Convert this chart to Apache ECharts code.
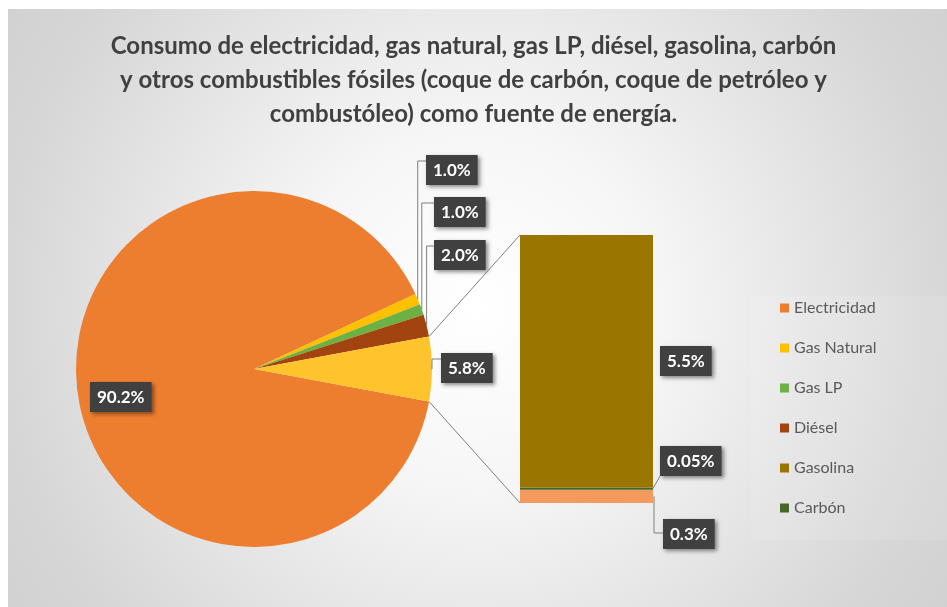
<!DOCTYPE html>
<html><head><meta charset="utf-8">
<script src="https://cdn.jsdelivr.net/npm/echarts@6/dist/echarts.min.js"></script>
<style>html,body{margin:0;padding:0;background:#fff}#c{width:947px;height:607px}</style>
</head><body><div id="c"></div>
<script>
// ---------- data ----------
const titleLines = [
  'Consumo de electricidad, gas natural, gas LP, diésel, gasolina, carbón',
  'y otros combustibles fósiles (coque de carbón, coque de petróleo y',
  'combustóleo) como fuente de energía.'
];
const pieNames = ['Electricidad', 'Gas Natural', 'Gas LP', 'Diésel'];
const pieValues = [90.2, 1.0, 1.0, 2.0];
const otherName = 'Otros';
// secondary bar, listed bottom to top
const barNames = ['Otros combustibles fósiles', 'Carbón', 'Gasolina'];
const barValues = [0.29, 0.05, 5.5];
const legendNames = ['Electricidad', 'Gas Natural', 'Gas LP', 'Diésel', 'Gasolina', 'Carbón'];

// ---------- style / layout ----------
const pieColors = ['#EE7E2F', '#FFC000', '#6DB043', '#A2440F'];
const otherColor = '#FFC42C';
const barColors = ['#F39A5C', '#45672A', '#9A7500'];
const legendColors = {'Electricidad':'#EE7E2F','Gas Natural':'#FFC000','Gas LP':'#6DB043','Diésel':'#A2440F','Gasolina':'#9A7500','Carbón':'#45672A'};
const PIE_C = [254, 369], PIE_R = 178;
const GRID = {left: 520, top: 235, width: 133, height: 268};
const pieLabelBoxes = [[90, 382], [426, 155], [434, 197], [434, 240], [441, 353]]; // top-left of label boxes
const barLabelBoxes = [[663, 519], [660, 446], [660, 346]];
const FONT = 'Lato, "Open Sans", sans-serif';
const lineColor = '#7F7F7F';

const otherValue = barValues.reduce((a, b) => a + b, 0);
const pieTotal = pieValues.reduce((a, b) => a + b, 0) + otherValue;
const startAngle = 360 - (otherValue / pieTotal) * 180;
const fmt = v => (v < 0.1 ? v.toFixed(2) : v.toFixed(1)) + '%';

const labelStyle = {
  show: true, color: '#fff', fontFamily: FONT, fontWeight: 'bold', fontSize: 17, lineHeight: 17,
  backgroundColor: '#404040', padding: [7, 7, 6, 7],
  shadowColor: 'rgba(0,0,0,0.45)', shadowBlur: 4, shadowOffsetX: 2, shadowOffsetY: 2
};

const pieData = pieNames.map((n, i) => ({name: n, value: pieValues[i], itemStyle: {color: pieColors[i]}}))
  .concat([{name: otherName, value: otherValue, itemStyle: {color: otherColor}}]);

const barSeries = barNames.map((n, i) => ({
  type: 'bar', name: n, stack: 'other', barWidth: '100%',
  data: [barValues[i]], itemStyle: {color: barColors[i]},
  label: Object.assign({}, labelStyle, {position: 'right', formatter: p => fmt(p.value)}),
  labelLayout: () => ({x: barLabelBoxes[i][0], y: barLabelBoxes[i][1], align: 'left', verticalAlign: 'top'}),
  emphasis: {disabled: true}
}));

const chart = echarts.init(document.getElementById('c'));
chart.setOption({
  animation: false,
  title: {
    text: titleLines.join('\n'), left: 'center', top: 24,
    textStyle: {fontFamily: FONT, fontSize: 24, fontWeight: 'bold', color: '#404040', lineHeight: 34}
  },
  legend: {
    data: legendNames.map(n => ({name: n, itemStyle: {color: legendColors[n]}})),
    orient: 'vertical', left: 775, top: 295, itemWidth: 9, itemHeight: 9, itemGap: 24,
    icon: 'rect', selectedMode: false,
    textStyle: {fontFamily: FONT, fontSize: 16, color: '#595959'}
  },
  grid: GRID,
  xAxis: {type: 'category', data: ['x'], show: false},
  yAxis: {type: 'value', min: 0, max: otherValue, show: false},
  graphic: {elements: [
    {id: 'bg', type: 'rect', z: -10, silent: true, shape: {x: 8, y: 9, width: 939, height: 598},
     style: {fill: {type: 'radial', x: 0.5, y: 0.5, r: 1, colorStops: [
       {offset: 0, color: '#ffffff'}, {offset: 0.3, color: '#f6f6f6'}, {offset: 0.8, color: '#d6d6d6'}, {offset: 1, color: '#cfcfcf'}]}}},
    {id: 'legbox', type: 'rect', z: -9, silent: true, shape: {x: 751, y: 296, width: 196, height: 244},
     style: {fill: 'rgba(255,255,255,0.1)'}}
  ]},
  series: [{
    type: 'pie', center: PIE_C, radius: PIE_R, startAngle: startAngle, clockwise: true,
    avoidLabelOverlap: false, data: pieData, emphasis: {disabled: true},
    label: Object.assign({}, labelStyle, {position: 'outside', formatter: p => fmt(p.value)}),
    labelLine: {show: false},
    labelLayout: p => ({x: pieLabelBoxes[p.dataIndex][0], y: pieLabelBoxes[p.dataIndex][1], align: 'left', verticalAlign: 'top'})
  }].concat(barSeries)
});

// ---------- leader & connector lines, from the library's geometry ----------
function anglePoint(cumVal) {
  const a = (startAngle - cumVal / pieTotal * 360) * Math.PI / 180;
  return [PIE_C[0] + PIE_R * Math.cos(a), PIE_C[1] - PIE_R * Math.sin(a)];
}
function edgePoint(k) { // mid-angle outer point of pie slice k
  let cum = 0;
  for (let i = 0; i < k; i++) cum += pieData[i].value;
  return anglePoint(cum + pieData[k].value / 2);
}
const lines = [];
const line = (pts, id) => lines.push({id: id, type: 'polyline', z: 5, silent: true,
  shape: {points: pts}, style: {stroke: lineColor, lineWidth: 1, fill: null}});
for (let k = 1; k < pieData.length; k++) {
  const e = edgePoint(k), b = pieLabelBoxes[k];
  const hy = b[1] + 6;
  line([[e[0], e[1]], [e[0], hy], [b[0], hy]], 'pl' + k);
}
const yPix = v => chart.convertToPixel({yAxisIndex: 0}, v);
const barLeft = GRID.left, barRight = GRID.left + GRID.width;
// connectors between the combined slice and the bar
const cumBeforeOther = pieValues.reduce((a, b) => a + b, 0);
const pTop = anglePoint(cumBeforeOther), pBot = anglePoint(pieTotal);
line([pTop, [barLeft, yPix(otherValue)]], 'c1');
line([pBot, [barLeft, yPix(0)]], 'c2');
// bar label leaders (Otros and Carbón)
{
  const b = barLabelBoxes[0];
  const ym = yPix(barValues[0] / 2);
  line([[barRight + 1, ym], [barRight + 1, b[1] + 14], [b[0], b[1] + 14]], 'bl0');
  const b1 = barLabelBoxes[1];
  const y1 = yPix(barValues[0] + barValues[1] / 2);
  line([[barRight, y1], [b1[0], b1[1] + 30]], 'bl1');
}
chart.setOption({graphic: {elements: lines}});
</script>
</body></html>
